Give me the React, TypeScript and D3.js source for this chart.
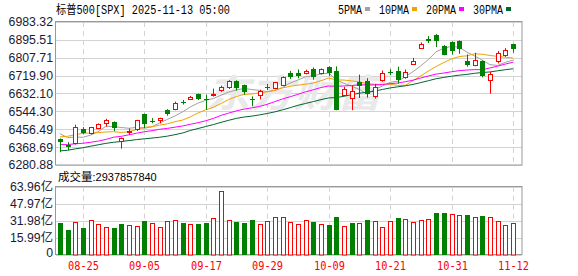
import React from "react";
import * as d3 from "d3";

// ---------- data ----------
const title = "标普500[SPX] 2025-11-13 05:00";
const volumeLabel = "成交量";
const lastVolume = "2937857840";

const dates = [
  "08-20","08-21","08-22","08-25","08-26","08-27","08-28","08-29",
  "09-02","09-03","09-04","09-05","09-08","09-09","09-10","09-11","09-12",
  "09-15","09-16","09-17","09-18","09-19","09-22","09-23","09-24","09-25","09-26",
  "09-29","09-30","10-01","10-02","10-03","10-06","10-07","10-08","10-09","10-10",
  "10-13","10-14","10-15","10-16","10-17","10-20","10-21","10-22","10-23","10-24",
  "10-27","10-28","10-29","10-30","10-31","11-03","11-04","11-05","11-06","11-07",
  "11-10","11-11","11-12",
];
const opens = [
  6409, 6378, 6389, 6457, 6437, 6462, 6486, 6492,
  6400, 6444, 6457, 6531, 6498, 6500, 6552, 6554, 6590,
  6607, 6628, 6605, 6628, 6650, 6662, 6695, 6672, 6607, 6626,
  6664, 6661, 6675, 6732, 6731, 6734, 6752, 6731, 6760, 6743,
  6627, 6608, 6690, 6693, 6620, 6696, 6738, 6744, 6712, 6776,
  6855, 6900, 6918, 6864, 6885, 6888, 6790, 6770, 6790, 6700,
  6792, 6823, 6874,
];
const highs = [
  6411, 6393, 6479, 6467, 6468, 6485, 6508, 6495,
  6416, 6460, 6503, 6533, 6511, 6513, 6555, 6592, 6600,
  6620, 6632, 6626, 6656, 6671, 6698, 6697, 6676, 6618, 6651,
  6679, 6689, 6716, 6743, 6750, 6749, 6760, 6755, 6766, 6765,
  6665, 6670, 6725, 6707, 6679, 6745, 6752, 6764, 6750, 6807,
  6883, 6914, 6924, 6870, 6888, 6893, 6824, 6832, 6795, 6738,
  6841, 6855, 6876,
];
const lows = [
  6344, 6354, 6381, 6433, 6431, 6457, 6470, 6447,
  6361, 6430, 6448, 6462, 6486, 6485, 6523, 6550, 6578,
  6603, 6600, 6551, 6617, 6640, 6654, 6646, 6626, 6570, 6603,
  6649, 6656, 6669, 6704, 6707, 6726, 6700, 6725, 6718, 6550,
  6620, 6550, 6610, 6612, 6607, 6690, 6722, 6680, 6705, 6774,
  6852, 6880, 6860, 6820, 6823, 6827, 6764, 6766, 6712, 6631,
  6780, 6812, 6833,
];
const closes = [
  6395.78, 6370.17, 6466.91, 6439.32, 6465.94, 6481.40, 6501.86, 6460.26,
  6415.54, 6448.26, 6502.08, 6481.50, 6495.15, 6512.61, 6532.04, 6587.47, 6584.29,
  6615.28, 6606.76, 6600.35, 6631.96, 6664.36, 6693.75, 6656.92, 6637.97, 6604.72, 6643.70,
  6661.21, 6688.46, 6711.20, 6715.35, 6715.79, 6740.28, 6714.59, 6753.72, 6735.11, 6552.51,
  6654.72, 6644.31, 6671.06, 6629.07, 6664.01, 6735.13, 6735.35, 6699.40, 6738.44, 6791.69,
  6875.16, 6890.89, 6890.59, 6822.34, 6840.20, 6851.97, 6771.55, 6796.29, 6720.32, 6728.80,
  6832.43, 6846.61, 6850.92,
];
// closes of the 29 sessions before the first visible one (for the moving averages)
const priorCloses = [
  6280.46, 6259.75, 6268.56, 6243.76, 6263.70, 6297.36, 6296.79, 6305.60, 6309.62,
  6358.91, 6363.35, 6388.64, 6389.77, 6370.86, 6362.90, 6339.39, 6238.01, 6329.94,
  6299.19, 6345.06, 6340.00, 6389.45, 6373.45, 6445.76, 6466.58, 6468.54, 6449.80,
  6449.15, 6411.37,
];
// volume in 亿
const volumes = [
  29.9, 23.0, 30.6, 24.9, 32.2, 28.4, 25.5, 24.9,
  28.7, 27.4, 26.5, 31.5, 29.6, 25.5, 31.2, 32.2, 29.9,
  28.7, 29.0, 29.9, 34.0, 59.9, 32.2, 30.6, 29.9, 32.4, 28.7,
  31.2, 35.0, 35.0, 30.6, 28.7, 32.2, 30.6, 28.7, 27.7, 35.3,
  26.8, 29.6, 29.6, 32.4, 31.2, 25.5, 31.2, 34.3, 33.1, 30.6,
  32.2, 33.1, 39.1, 39.1, 38.1, 36.9, 37.2, 35.0, 36.2, 35.3,
  31.2, 27.4, 29.38,
];
const priceTicks = ["6983.32","6895.51","6807.71","6719.90","6632.10","6544.30","6456.49","6368.69","6280.88"];
const volTicks = ["63.96","47.97","31.98","15.99","0"];
const volUnit = "亿";
const xTickDates = ["08-25","09-05","09-17","09-29","10-09","10-21","10-31","11-12"];
const maPeriods = [5, 10, 20, 30];
const maNames = ["5PMA", "10PMA", "20PMA", "30PMA"];
const maColors = ["#a0a0a0", "#f2a100", "#ff00ff", "#00662f"];

// ---------- layout ----------
const W = 578, H = 276;
const L = 56, R = 522;
const P_TOP = 22, P_BOT = 165;
const V_TOP = 186.5, V_BOT = 254.5;
const STEP = 7.68;
const RED = "#ff0000";
const GREEN = "#008000";
const GRID = "#d3d3d3";
const BORDER = "#999999";
const LABEL = "#1a1a33";

export default function App() {
  const priceNums = priceTicks.map(Number);
  const yP = d3.scaleLinear().domain([d3.min(priceNums)!, d3.max(priceNums)!]).range([P_BOT, P_TOP]);
  const volNums = volTicks.map(Number);
  const yV = d3.scaleLinear().domain([0, d3.max(volNums)!]).range([V_BOT, V_TOP]);
  const xB = d3.scaleBand().domain(dates).range([L, L + STEP * dates.length]).padding(0);
  const cx = (i: number) => (xB(dates[i]) as number) + xB.bandwidth() / 2;
  const cxr = (i: number) => Math.round(cx(i));

  const allCloses = priorCloses.concat(closes);
  const maSeries = maPeriods.map((n) =>
    closes.map((_, i) => {
      const k = priorCloses.length + i;
      return d3.mean(allCloses.slice(k - n + 1, k + 1)) as number;
    })
  );
  const line = d3.line<number>().x((_, i) => cx(i)).y((d) => yP(d));

  const sans = "'Liberation Sans', Arial, 'Noto Sans CJK SC', sans-serif";
  const mono = "'Liberation Mono', 'Noto Sans CJK SC', monospace";
  const mono2 = "'DejaVu Sans Mono', monospace";

  let legendX = 338;
  const legend = maNames.map((name, k) => {
    const x = legendX;
    const tw = name.length * 6;
    legendX += tw + 3 + 5 + 9;
    return (
      <g key={name}>
        <text x={x} y={13.5} fontFamily={mono} fontSize={12} textLength={tw} lengthAdjust="spacingAndGlyphs" fill="#000">{name}</text>
        <rect x={x + tw + 3} y={7} width={5} height={4} fill={maColors[k]} />
      </g>
    );
  });

  return (
    <svg width={W} height={H} style={{ position: "absolute", left: 0, top: 0, background: "#fff" }}>
      <rect x={0} y={0} width={W} height={H} fill="#fff" />
      {/* title */}
      <text x={56} y={13.5} fontFamily={mono} fontSize={12} textLength={174} lengthAdjust="spacingAndGlyphs" fill="#000">{title}</text>
      {legend}

      {/* price grid */}
      {priceNums.map((p, k) => (
        <line key={"hg" + k} x1={L} x2={R} y1={Math.round(yP(p)) + 0.5} y2={Math.round(yP(p)) + 0.5} stroke={GRID} />
      ))}
      {volNums.map((v, k) => (
        <line key={"vg" + k} x1={L} x2={R} y1={Math.round(yV(v)) + 0.5} y2={Math.round(yV(v)) + 0.5} stroke={GRID} />
      ))}
      {xTickDates.map((d) => {
        const i = dates.indexOf(d);
        const x = cxr(i) + 0.5;
        return (
          <g key={"vx" + d}>
            <line x1={x} x2={x} y1={P_TOP} y2={P_BOT} stroke={GRID} strokeDasharray="5,4" />
            <line x1={x} x2={x} y1={V_TOP} y2={V_BOT} stroke={GRID} strokeDasharray="5,4" />
          </g>
        );
      })}

      {/* watermark */}
      <text x={206} y={107} fontFamily="'Noto Sans CJK SC', sans-serif" fontWeight="bold" fontSize={38} fill="#e9e9e9" fontStyle="italic" textLength={175} lengthAdjust="spacingAndGlyphs">东方财富</text>

      {/* borders */}
      <rect x={L - 0.5} y={P_TOP - 0.5} width={R - L + 0.5} height={P_BOT - P_TOP + 0.5} fill="none" stroke={BORDER} />
      <rect x={L - 0.5} y={V_TOP} width={R - L + 0.5} height={V_BOT - V_TOP} fill="none" stroke={BORDER} />

      {/* MA lines */}
      {maSeries.map((s, k) => (
        <path key={"ma" + k} d={line(s) || ""} fill="none" stroke={maColors[k]} strokeWidth={1} />
      ))}

      {/* candles */}
      {closes.map((c, i) => {
        const o = opens[i];
        const x = cxr(i);
        const up = c >= o;
        const yt = Math.round(yP(Math.max(o, c)));
        const yb = Math.max(Math.round(yP(Math.min(o, c))), yt + 1);
        const yh = yP(highs[i]);
        const yl = yP(lows[i]);
        if (up) {
          return (
            <g key={"c" + i}>
              <line x1={x + 0.5} x2={x + 0.5} y1={yh} y2={yt + 0.5} stroke={RED} />
              <line x1={x + 0.5} x2={x + 0.5} y1={yb + 0.5} y2={yl} stroke={RED} />
              <rect x={x - 1.5} y={yt + 0.5} width={4} height={Math.max(yb - yt, 1)} fill="#fff" stroke={RED} />
            </g>
          );
        }
        return (
          <g key={"c" + i}>
            <line x1={x + 0.5} x2={x + 0.5} y1={yh} y2={yl} stroke={GREEN} />
            <rect x={x - 2} y={yt} width={5} height={yb - yt} fill={GREEN} />
          </g>
        );
      })}

      {/* volume bars */}
      {volumes.map((v, i) => {
        const prev = i === 0 ? priorCloses[priorCloses.length - 1] : closes[i - 1];
        const up = closes[i] >= prev;
        const x = cxr(i);
        const yt = Math.round(yV(v));
        if (up) {
          return <rect key={"v" + i} x={x - 1.5} y={yt + 0.5} width={4} height={V_BOT - yt} fill="#fff" stroke={RED} />;
        }
        return <rect key={"v" + i} x={x - 2} y={yt} width={5} height={V_BOT + 0.5 - yt} fill={GREEN} />;
      })}

      {/* price axis labels */}
      {priceTicks.map((t, k) => (
        <text key={"pl" + k} x={53} y={yP(priceNums[k])} dy="0.36em" textAnchor="end" fontFamily={sans} fontSize={12.3} fill={LABEL}>{t}</text>
      ))}
      {/* volume axis labels */}
      {volTicks.map((t, k) => (
        <text key={"vl" + k} x={53} y={Math.min(yV(volNums[k]), V_BOT - 1.5)} dy="0.36em" textAnchor="end" fontFamily={sans} fontSize={12.3} fill={LABEL}>
          {t === "0" ? t : t + volUnit}
        </text>
      ))}
      {/* x labels */}
      {xTickDates.map((d) => {
        const i = dates.indexOf(d);
        return (
          <text key={"xl" + d} x={cxr(i) + 0.5} y={270} textAnchor="middle" fontFamily={mono2} fontSize={12} style={{ fill: RED }} textLength={31} lengthAdjust="spacingAndGlyphs">{d}</text>
        );
      })}
      {/* volume caption */}
      <text x={58} y={181} fontFamily={sans} fontSize={11} fill="#000">
        <tspan fontSize={11.5}>{volumeLabel}</tspan>
        <tspan>:{lastVolume}</tspan>
      </text>
    </svg>
  );
}
